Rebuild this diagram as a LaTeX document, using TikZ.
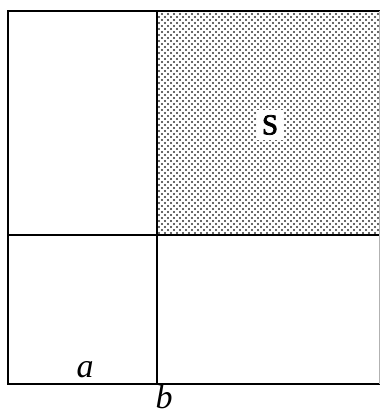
\documentclass[tikz,border=0pt]{standalone}
\usepackage{fontspec}
\setmainfont{Liberation Serif}
\newfontfamily\labelbold{Liberation Serif}[FakeBold=2.5]
\usetikzlibrary{patterns}

% staggered dot screen for the shaded part
\pgfdeclarepatternformonly{sdots}{\pgfqpoint{-2pt}{-2pt}}{\pgfqpoint{6pt}{6pt}}{\pgfqpoint{6pt}{6pt}}{%
  \pgfpathcircle{\pgfqpoint{0pt}{0pt}}{1.1pt}%
  \pgfpathcircle{\pgfqpoint{3pt}{3pt}}{1.1pt}%
  \pgfusepath{fill}}

\begin{document}
\begin{tikzpicture}[x=1pt,y=1pt]
  \tikzstyle{edge}=[black,line width=2.6pt]
  \tikzstyle{lbl}=[inner sep=1pt,font=\fontsize{34}{36}\selectfont\itshape]
  \useasboundingbox (0,0) rectangle (380,416);

  % -- corners of the square and the cut --
  \coordinate (sw) at (8,32);
  \coordinate (ne) at (380,405);
  \coordinate (cut) at (157,181);

  % -- shaded part S --
  \fill[pattern=sdots,pattern color=black!80] (cut) rectangle (ne);
  \node[fill=white,inner sep=5pt,font=\labelbold\fontsize{29}{31}\selectfont] (s) at (270,291) {S};

  % -- square and dividing lines --
  \draw[edge] (sw) rectangle (ne);
  \draw[edge] (cut |- sw) -- (cut |- ne);
  \draw[edge] (sw |- cut) -- (ne |- cut);
  \draw[black!30,line width=1pt] (379.5,32) -- (379.5,405);

  % -- side labels --
  \node[lbl,anchor=base] (a) at (85,38) {a};
  \node[lbl,anchor=base] (b) at (164,8) {b};
\end{tikzpicture}
\end{document}
